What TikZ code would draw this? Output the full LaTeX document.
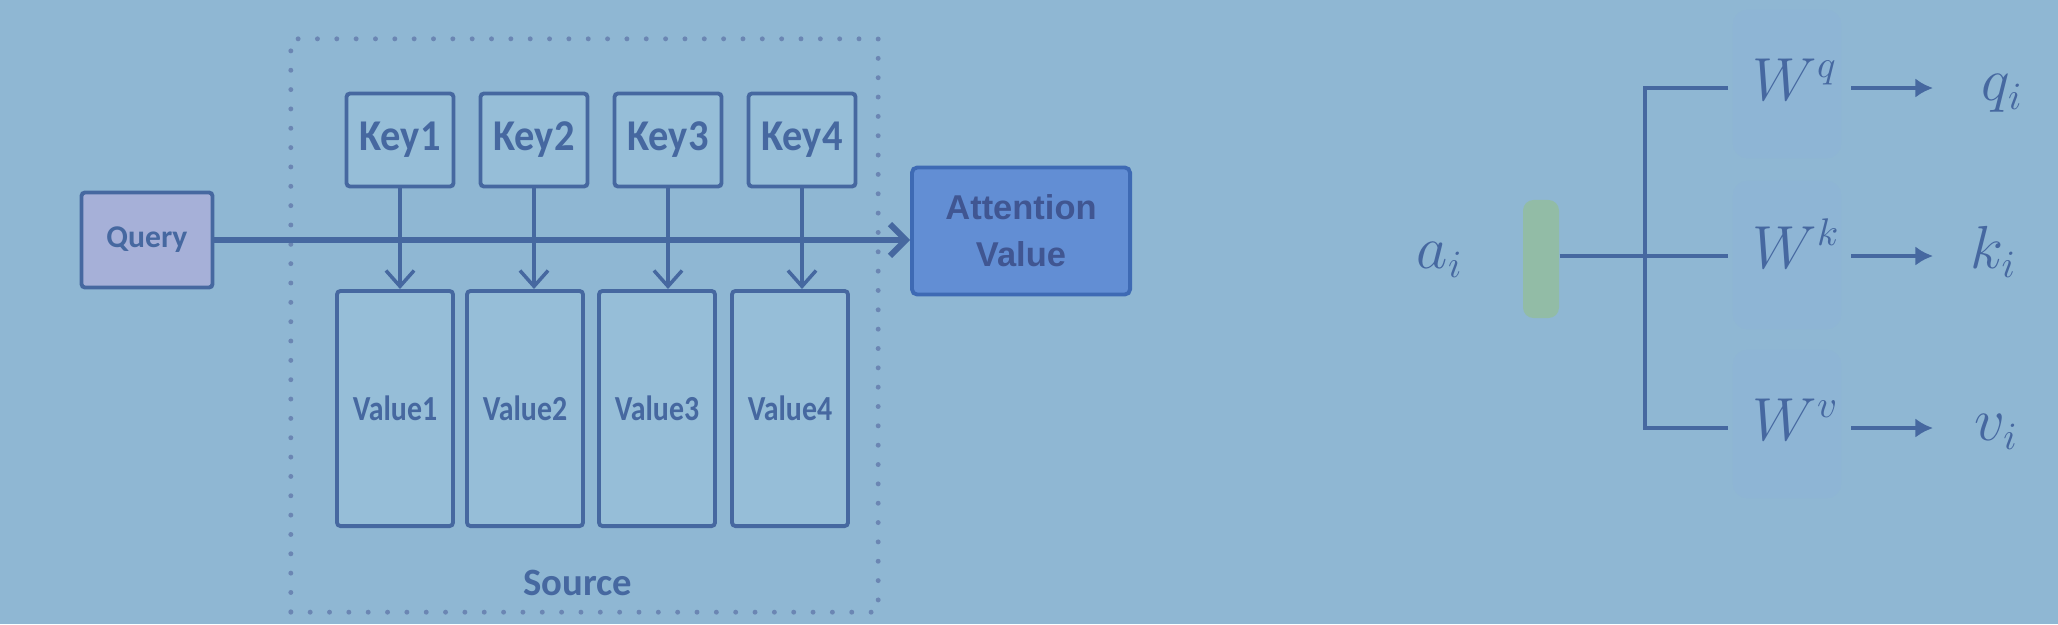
\documentclass[tikz,border=0pt]{standalone}
\definecolor{slidebg}{RGB}{143,183,211}
\definecolor{inkblue}{RGB}{70,104,160}
\definecolor{cellfill}{RGB}{150,190,216}
\definecolor{queryfill}{RGB}{166,176,216}
\definecolor{attnfill}{RGB}{98,142,212}
\definecolor{attnline}{RGB}{62,106,180}
\definecolor{embgreen}{RGB}{146,188,166}
\definecolor{wshade}{RGB}{142,181,213}
\usepackage{fontspec}
\setmainfont{Carlito}
\newfontfamily\attfont{Liberation Sans}
\newfontfamily\keyfont[FakeStretch=0.92]{Carlito}
\newfontfamily\valfont[FakeStretch=0.85]{Carlito}
\usepackage{tikz}
\usetikzlibrary{arrows.meta,positioning,calc}

\tikzset{
  keybox/.style={draw=inkblue, line width=1.1pt, fill=cellfill, rounded corners=1pt,
    minimum width=1.07cm, minimum height=0.93cm, inner sep=0pt, text=inkblue,
    font=\keyfont\fontsize{12.5}{14}\selectfont\bfseries},
  valbox/.style={keybox, minimum width=1.16cm, minimum height=2.35cm,
    font=\valfont\fontsize{10}{12}\selectfont\bfseries},
  querybox/.style={keybox, fill=queryfill, minimum width=1.31cm, minimum height=0.95cm,
    font=\rmfamily\fontsize{9}{11}\selectfont\bfseries},
  attnbox/.style={draw=attnline, line width=1.1pt, fill=attnfill, rounded corners=1.5pt,
    minimum width=2.18cm, minimum height=1.27cm, inner sep=0pt, align=center,
    text={rgb,255:red,64;green,86;blue,146}, font=\attfont\fontsize{9.8}{13.3}\selectfont\bfseries},
  srcframe/.style={draw=inkblue!80, line width=1.4pt, line cap=round,
    dash pattern=on 0pt off 5.5pt, minimum width=5.87cm, minimum height=5.73cm},
  srclabel/.style={text=inkblue, font=\fontsize{11}{13}\selectfont\bfseries},
  keyarrow/.style={draw=inkblue, line width=1pt, -{Straight Barb[length=4.5pt,width=8pt]}},
  qarrow/.style={draw=inkblue, line width=1.7pt, -{Straight Barb[length=4.5pt,width=9pt]}},
  mathlbl/.style={text=inkblue, inner sep=0pt, text height=0.683em, text depth=0pt,
    font=\fontsize{16}{19}\selectfont},
  embbar/.style={fill=embgreen, rounded corners=3pt, minimum width=0.36cm,
    minimum height=1.18cm, inner sep=0pt},
  wshadebox/.style={fill=wshade, rounded corners=4pt, minimum width=1.08cm,
    minimum height=1.48cm, inner sep=0pt},
  wire/.style={draw=inkblue, line width=1.2pt},
  rarrow/.style={draw=inkblue, line width=1.1pt, -{Latex[length=5pt,width=5.5pt]}}
}

\begin{document}
\begin{tikzpicture}[x=0.01cm,y=-0.01cm]
  \fill[slidebg] (0,0) rectangle (2058,624);
  \useasboundingbox (0,0) rectangle (2058,624);

  % --- attention as a lookup over a source ---
  \node[srcframe] (source) at (584.5,325.5) {};
  \node[srclabel] (srctxt) at (578,583) {Source};

  \node[querybox] (query) at (147,240) {Query};
  \node[attnbox] (attn) at (1021,231) {Attention\\Value};

  \foreach \i/\kx/\vx in {1/400/395, 2/534/525, 3/668/657, 4/802/790} {
    \node[keybox] (key\i) at (\kx,140) {Key\i};
    \node[valbox] (val\i) at (\vx,408.5) {Value\i};
    \draw[keyarrow] (key\i.south) -- (key\i.south |- val\i.north);
  }
  \draw[qarrow] (query.east) -- (query.east -| attn.west);

  % --- q, k, v from one input vector ---
  \node[wshadebox] (wqbg) at (1787,84) {};
  \node[wshadebox] (wkbg) at (1787,255) {};
  \node[wshadebox] (wvbg) at (1787,424) {};

  \node[mathlbl] (ai) at (1440,256) {$a_i$};
  \node[embbar] (emb) at (1541,259) {};

  \node[mathlbl, anchor=west] (wq) at (1752,88) {$W^q$};
  \node[mathlbl, anchor=west] (wk) at (1752,256) {$W^k$};
  \node[mathlbl, anchor=west] (wv) at (1752,428) {$W^v$};

  \node[mathlbl, anchor=west] (qi) at (1981,88) {$q_i$};
  \node[mathlbl, anchor=west] (ki) at (1970,256) {$k_i$};
  \node[mathlbl, anchor=west] (vi) at (1974,428) {$v_i$};

  \coordinate (fork) at (1645,256);
  \draw[wire] (emb.east |- fork) -- ([xshift=-0.24cm]wk.west);
  \draw[wire] ([xshift=-0.24cm]wq.west) -| (fork |- wv.west) -- ([xshift=-0.24cm]wv.west);

  \draw[rarrow] ([xshift=0.99cm]wq.west) -- ([xshift=-0.48cm]qi.west);
  \draw[rarrow] ([xshift=0.99cm]wk.west) -- ([xshift=-0.37cm]ki.west);
  \draw[rarrow] ([xshift=0.99cm]wv.west) -- ([xshift=-0.41cm]vi.west);
\end{tikzpicture}
\end{document}
